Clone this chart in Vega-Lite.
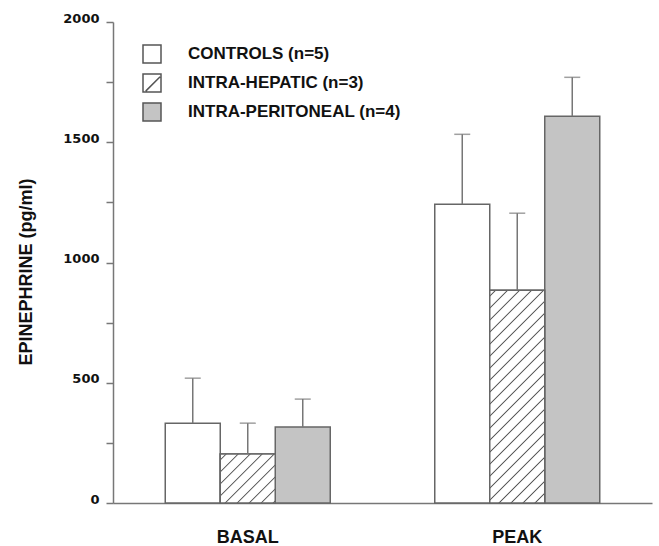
{
  "$schema": "https://vega.github.io/schema/vega-lite/v6.json",
  "width": 539,
  "height": 481,
  "autosize": "none",
  "padding": {"left": 113, "top": 22, "right": 7, "bottom": 43},
  "background": "white",
  "config": {
    "view": {"stroke": null},
    "font": "Liberation Sans",
    "axis": {"grid": false, "domainColor": "#777", "domainWidth": 1.5, "tickColor": "#777", "tickWidth": 1.5, "labelFont": "Liberation Sans", "labelFontWeight": "bold", "labelColor": "#111", "titleFont": "Liberation Sans", "titleFontWeight": "bold", "titleColor": "#111"},
    "legend": {"labelFont": "Liberation Sans", "labelFontWeight": "bold", "labelColor": "#111"}
  },
  "data": {
    "values": [
      {"phase": "BASAL", "group": "CONTROLS (n=5)", "mean": 332, "upper": 519},
      {"phase": "BASAL", "group": "INTRA-HEPATIC (n=3)", "mean": 204, "upper": 332},
      {"phase": "BASAL", "group": "INTRA-PERITONEAL (n=4)", "mean": 316, "upper": 432},
      {"phase": "PEAK", "group": "CONTROLS (n=5)", "mean": 1242, "upper": 1533},
      {"phase": "PEAK", "group": "INTRA-HEPATIC (n=3)", "mean": 885, "upper": 1205},
      {"phase": "PEAK", "group": "INTRA-PERITONEAL (n=4)", "mean": 1608, "upper": 1770}
    ]
  },
  "encoding": {
    "x": {"field": "phase", "type": "nominal", "scale": {"paddingInner": 0, "paddingOuter": 0},
      "axis": {"title": null, "labelAngle": 0, "ticks": false, "tickSize": 0, "labelPadding": 25, "labelFontSize": 18}},
    "xOffset": {"field": "group", "type": "nominal", "scale": {"domain": ["CONTROLS (n=5)", "INTRA-HEPATIC (n=3)", "INTRA-PERITONEAL (n=4)"], "paddingInner": 0, "paddingOuter": 0.95}},
    "y": {"field": "mean", "type": "quantitative", "scale": {"domain": [0, 2000], "nice": false},
      "axis": {"title": "EPINEPHRINE (pg/ml)", "titleFontSize": 18, "titlePadding": 27, "titleY": 249.5, "values": [0, 250, 500, 750, 1000, 1250, 1500, 1750, 2000], "format": "d", "labelExpr": "datum.value % 500 == 0 ? datum.label : ''", "tickSize": 7, "labelPadding": 7, "labelFont": "DejaVu Sans", "labelFontSize": 13, "labelBaseline": "alphabetic"}}
  },
  "layer": [
    {
      "mark": {"type": "bar", "stroke": "#666", "strokeWidth": 1.5},
      "encoding": {
        "fill": {"field": "group", "type": "nominal", "scale": {"domain": ["CONTROLS (n=5)", "INTRA-HEPATIC (n=3)", "INTRA-PERITONEAL (n=4)"], "range": ["#ffffff", "#ffffff", "#c4c4c4"]}}
      }
    },
    {
      "transform": [{"filter": "datum.group == 'INTRA-HEPATIC (n=3)' && datum.phase == 'BASAL'"}],
      "mark": {"type": "bar", "stroke": "#666", "strokeWidth": 1.5,
        "fill": {"gradient": "linear", "x1": 0, "y1": 0, "x2": 1.053, "y2": 0.94, "stops": [
          {"offset": 0, "color": "#ffffff"},
          {"offset": 0.0451, "color": "#ffffff"}, {"offset": 0.0576, "color": "#555555"}, {"offset": 0.0701, "color": "#ffffff"},
          {"offset": 0.1604, "color": "#ffffff"}, {"offset": 0.1729, "color": "#555555"}, {"offset": 0.1854, "color": "#ffffff"},
          {"offset": 0.2757, "color": "#ffffff"}, {"offset": 0.2882, "color": "#555555"}, {"offset": 0.3007, "color": "#ffffff"},
          {"offset": 0.3910, "color": "#ffffff"}, {"offset": 0.4035, "color": "#555555"}, {"offset": 0.4160, "color": "#ffffff"},
          {"offset": 0.5063, "color": "#ffffff"}, {"offset": 0.5188, "color": "#555555"}, {"offset": 0.5313, "color": "#ffffff"},
          {"offset": 0.6216, "color": "#ffffff"}, {"offset": 0.6341, "color": "#555555"}, {"offset": 0.6466, "color": "#ffffff"},
          {"offset": 0.7369, "color": "#ffffff"}, {"offset": 0.7494, "color": "#555555"}, {"offset": 0.7619, "color": "#ffffff"},
          {"offset": 0.8522, "color": "#ffffff"}, {"offset": 0.8647, "color": "#555555"}, {"offset": 0.8772, "color": "#ffffff"},
          {"offset": 0.9675, "color": "#ffffff"}, {"offset": 0.9800, "color": "#555555"}, {"offset": 0.9925, "color": "#ffffff"},
          {"offset": 1, "color": "#ffffff"}
        ]}},
      "encoding": {}
    },
    {
      "transform": [{"filter": "datum.group == 'INTRA-HEPATIC (n=3)' && datum.phase == 'PEAK'"}],
      "mark": {"type": "bar", "stroke": "#666", "strokeWidth": 1.5,
        "fill": {"gradient": "linear", "x1": 0, "y1": 0, "x2": 0.3049, "y2": 1.1796, "stops": [
          {"offset": 0, "color": "#ffffff"},
          {"offset": 0.0175, "color": "#ffffff"}, {"offset": 0.0224, "color": "#555555"}, {"offset": 0.0273, "color": "#ffffff"},
          {"offset": 0.0623, "color": "#ffffff"}, {"offset": 0.0672, "color": "#555555"}, {"offset": 0.0721, "color": "#ffffff"},
          {"offset": 0.1071, "color": "#ffffff"}, {"offset": 0.1120, "color": "#555555"}, {"offset": 0.1169, "color": "#ffffff"},
          {"offset": 0.1519, "color": "#ffffff"}, {"offset": 0.1568, "color": "#555555"}, {"offset": 0.1617, "color": "#ffffff"},
          {"offset": 0.1968, "color": "#ffffff"}, {"offset": 0.2017, "color": "#555555"}, {"offset": 0.2066, "color": "#ffffff"},
          {"offset": 0.2416, "color": "#ffffff"}, {"offset": 0.2465, "color": "#555555"}, {"offset": 0.2514, "color": "#ffffff"},
          {"offset": 0.2864, "color": "#ffffff"}, {"offset": 0.2913, "color": "#555555"}, {"offset": 0.2962, "color": "#ffffff"},
          {"offset": 0.3312, "color": "#ffffff"}, {"offset": 0.3361, "color": "#555555"}, {"offset": 0.3410, "color": "#ffffff"},
          {"offset": 0.3760, "color": "#ffffff"}, {"offset": 0.3809, "color": "#555555"}, {"offset": 0.3858, "color": "#ffffff"},
          {"offset": 0.4208, "color": "#ffffff"}, {"offset": 0.4257, "color": "#555555"}, {"offset": 0.4306, "color": "#ffffff"},
          {"offset": 0.4656, "color": "#ffffff"}, {"offset": 0.4705, "color": "#555555"}, {"offset": 0.4754, "color": "#ffffff"},
          {"offset": 0.5105, "color": "#ffffff"}, {"offset": 0.5154, "color": "#555555"}, {"offset": 0.5203, "color": "#ffffff"},
          {"offset": 0.5553, "color": "#ffffff"}, {"offset": 0.5602, "color": "#555555"}, {"offset": 0.5651, "color": "#ffffff"},
          {"offset": 0.6001, "color": "#ffffff"}, {"offset": 0.6050, "color": "#555555"}, {"offset": 0.6099, "color": "#ffffff"},
          {"offset": 0.6449, "color": "#ffffff"}, {"offset": 0.6498, "color": "#555555"}, {"offset": 0.6547, "color": "#ffffff"},
          {"offset": 0.6897, "color": "#ffffff"}, {"offset": 0.6946, "color": "#555555"}, {"offset": 0.6995, "color": "#ffffff"},
          {"offset": 0.7345, "color": "#ffffff"}, {"offset": 0.7394, "color": "#555555"}, {"offset": 0.7443, "color": "#ffffff"},
          {"offset": 0.7793, "color": "#ffffff"}, {"offset": 0.7842, "color": "#555555"}, {"offset": 0.7891, "color": "#ffffff"},
          {"offset": 0.8242, "color": "#ffffff"}, {"offset": 0.8291, "color": "#555555"}, {"offset": 0.8340, "color": "#ffffff"},
          {"offset": 0.8690, "color": "#ffffff"}, {"offset": 0.8739, "color": "#555555"}, {"offset": 0.8788, "color": "#ffffff"},
          {"offset": 0.9138, "color": "#ffffff"}, {"offset": 0.9187, "color": "#555555"}, {"offset": 0.9236, "color": "#ffffff"},
          {"offset": 0.9586, "color": "#ffffff"}, {"offset": 0.9635, "color": "#555555"}, {"offset": 0.9684, "color": "#ffffff"},
          {"offset": 1, "color": "#ffffff"}
        ]}},
      "encoding": {}
    },
    {
      "mark": {"type": "rule", "color": "#777", "strokeWidth": 1.5},
      "encoding": {"y2": {"field": "upper"}}
    },
    {
      "mark": {"type": "tick", "color": "#777", "size": 16, "thickness": 1.5},
      "encoding": {"y": {"field": "upper", "type": "quantitative"}}
    },
    {
      "mark": {"type": "point", "opacity": 0, "filled": true},
      "encoding": {
        "fill": {"field": "group", "type": "nominal",
          "legend": {"title": null, "orient": "none", "legendX": 29, "legendY": 22, "padding": 0, "symbolSize": 324, "symbolStrokeColor": "#555", "symbolStrokeWidth": 1.5, "symbolOpacity": 1, "rowPadding": 5, "labelOffset": 26, "labelFontSize": 17, "labelLimit": 400,
            "encode": {"symbols": {"update": {"opacity": {"value": 1}, "stroke": {"value": "#555"}}}}}},
        "shape": {"field": "group", "type": "nominal",
          "scale": {"domain": ["CONTROLS (n=5)", "INTRA-HEPATIC (n=3)", "INTRA-PERITONEAL (n=4)"], "range": ["M-1,-1H1V1H-1Z", "M-1,-1H1V1H-1Z M-0.7,0.9L0.9,-0.7", "M-1,-1H1V1H-1Z"]}}
      }
    }
  ]
}
